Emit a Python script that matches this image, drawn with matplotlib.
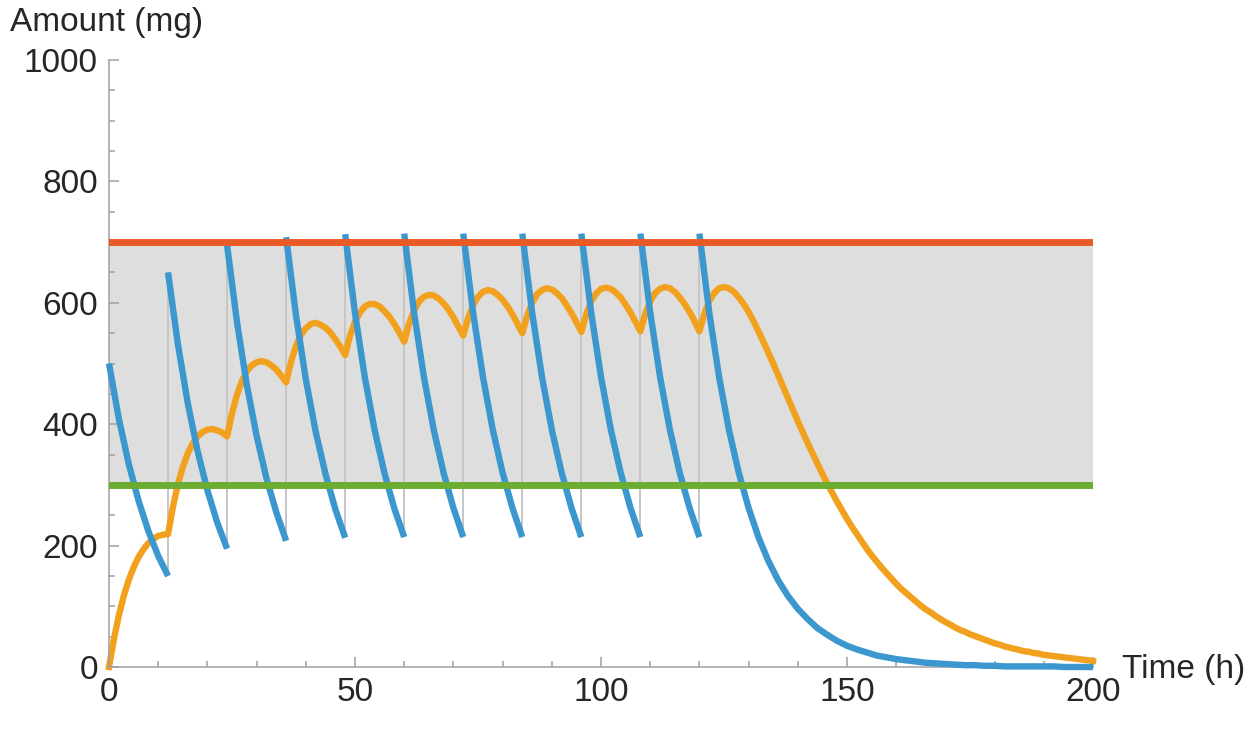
import numpy as np
import matplotlib
matplotlib.use("Agg")
import matplotlib.pyplot as plt

plt.rcParams['font.family'] = ['Liberation Sans', 'DejaVu Sans']

# amount at the absorption site, read every 2 h (value just after the dose at dose times)
blue_hours = np.arange(0, 201, 2)
blue = [500, 409, 335, 274, 224, 183,
        650, 532, 435, 356, 291, 238,
        695, 569, 465, 381, 311, 255,
        708, 580, 474, 388, 318, 260,
        713, 583, 477, 390, 319, 261,
        714, 584, 478, 391, 320, 262,
        714, 584, 478, 391, 320, 262,
        714, 584, 478, 391, 320, 262,
        714, 584, 478, 391, 320, 262,
        714, 584, 478, 391, 320, 262,
        714, 584, 478, 391, 320, 262, 214, 175, 143, 117, 96,
        79, 64, 53, 43, 35, 29, 24, 19, 16, 13,
        11, 9, 7, 6, 5, 4, 3, 3, 2, 2,
        1, 1, 1, 1, 1, 1, 0, 0, 0, 0]

dose_hours = [0, 12, 24, 36, 48, 60, 72, 84, 96, 108, 120]
# level just before each dose (t = 12 ... 120)
blue_troughs = [150, 195, 208, 213, 214, 214, 214, 214, 214, 214]

# amount in the body, read every hour
orange_hours = np.arange(0, 201, 1)
orange = [0, 46, 85, 117, 143, 164, 181, 194, 204, 211, 216, 218,
          219, 264, 301, 329, 352, 368, 380, 387, 391, 392, 390, 386,
          380, 418, 448, 471, 487, 497, 502, 504, 502, 497, 490, 480,
          469, 503, 529, 547, 558, 565, 567, 564, 559, 551, 540, 528,
          514, 546, 569, 584, 594, 598, 598, 594, 586, 577, 565, 551,
          536, 566, 587, 602, 610, 613, 612, 607, 599, 589, 576, 561,
          546, 575, 596, 610, 618, 621, 619, 613, 605, 594, 581, 566,
          550, 579, 600, 614, 621, 624, 622, 616, 608, 596, 583, 568,
          552, 581, 602, 615, 623, 625, 623, 617, 609, 597, 584, 569,
          553, 582, 602, 616, 623, 626, 624, 618, 609, 598, 585, 570,
          553, 582, 603, 616, 624, 626, 624, 618, 609, 598, 585, 570,
          553, 536, 518, 500, 481, 462, 443, 424, 405, 387, 369, 352,
          335, 318, 302, 287, 272, 258, 244, 231, 219, 207, 195, 184,
          174, 164, 155, 146, 137, 129, 122, 115, 108, 101, 95, 90,
          84, 79, 74, 70, 65, 61, 58, 54, 51, 48, 45, 42,
          39, 37, 34, 32, 30, 28, 26, 25, 23, 22, 20, 19,
          18, 17, 16, 15, 14, 13, 12, 11, 10]

low_limit = 300
high_limit = 700

blue_c = '#3b97cd'
orange_c = '#f2a11e'
red_c = '#ea5a26'
green_c = '#6aad31'
axis_c = '#a0a0a0'
text_c = '#262626'

fig = plt.figure(figsize=(12.58, 7.34), dpi=100)
ax = fig.add_axes([109 / 1258, 67 / 734, 984 / 1258, 607 / 734])

ax.axhspan(low_limit, high_limit, color='#dedede', lw=0, zorder=0)

# thin grey jumps at each dose
ax.vlines(dose_hours[1:], blue_troughs, [blue[d // 2] for d in dose_hours[1:]],
          color='#c6c6c6', lw=1.4, zorder=1)

ax.plot(orange_hours, orange, color=orange_c, lw=4.6, zorder=2, clip_on=False,
        solid_joinstyle='round')

for k, d in enumerate(dose_hours):
    i0 = d // 2
    if k < len(dose_hours) - 1:
        i1 = dose_hours[k + 1] // 2
        xs = list(blue_hours[i0:i1]) + [dose_hours[k + 1]]
        ys = blue[i0:i1] + [blue_troughs[k]]
    else:
        xs = blue_hours[i0:]
        ys = blue[i0:]
    ax.plot(xs, ys, color=blue_c, lw=4.6, zorder=3, clip_on=False,
            solid_capstyle='butt', solid_joinstyle='round')

ax.axhline(high_limit, color=red_c, lw=5, zorder=4)
ax.axhline(low_limit, color=green_c, lw=5, zorder=4)

ax.set_xlim(0, 200)
ax.set_ylim(0, 1000)
for s in ['top', 'right']:
    ax.spines[s].set_visible(False)
for s in ['left', 'bottom']:
    ax.spines[s].set_color(axis_c)
    ax.spines[s].set_linewidth(1.1)

ax.set_xticks(np.arange(0, 201, 50))
ax.set_xticks(np.arange(0, 201, 10), minor=True)
ax.set_yticks(np.arange(0, 1001, 200))
ax.set_yticks(np.arange(0, 1001, 50), minor=True)
ax.tick_params(which='both', direction='in', color=axis_c, width=1.1,
               labelsize=24, labelcolor=text_c)
ax.tick_params(which='major', length=7)
ax.tick_params(which='minor', length=4.5)
ax.tick_params(axis='x', which='major', pad=7)
ax.tick_params(axis='y', which='major', pad=8)

fig.text(10 / 1258, 1 - 31 / 734, 'Amount (mg)', ha='left', va='baseline',
         fontsize=24, color=text_c)
fig.text(1122 / 1258, 1 - 678 / 734, 'Time (h)', ha='left', va='baseline',
         fontsize=24, color=text_c)

fig.savefig('out.png', dpi=100)
